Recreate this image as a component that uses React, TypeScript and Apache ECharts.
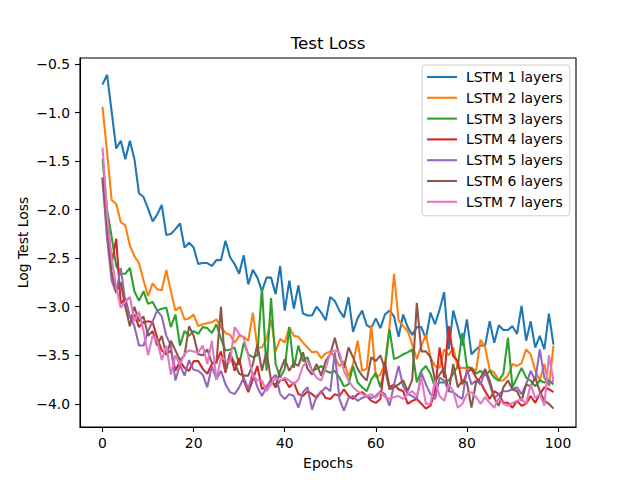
import React, { useEffect, useRef } from "react";
import * as echarts from "echarts";

const EPOCHS: number[] = Array.from({ length: 100 }, (_, i) => i);

const SERIES_NAMES = [
  "LSTM 1 layers",
  "LSTM 2 layers",
  "LSTM 3 layers",
  "LSTM 4 layers",
  "LSTM 5 layers",
  "LSTM 6 layers",
  "LSTM 7 layers",
];

const COLORS = ["#1f77b4", "#ff7f0e", "#2ca02c", "#d62728", "#9467bd", "#8c564b", "#e377c2"];

const X_TICKS = [0, 20, 40, 60, 80, 100];
const Y_TICKS = [-4.0, -3.5, -3.0, -2.5, -2.0, -1.5, -1.0, -0.5];

const LSTM1 = [
  -0.71, -0.61, -0.99, -1.37, -1.29, -1.48, -1.29, -1.48, -1.83, -1.87,
  -1.99, -2.12, -2.05, -1.95, -2.26, -2.25, -2.2, -2.14, -2.39, -2.34,
  -2.39, -2.56, -2.55, -2.55, -2.58, -2.52, -2.52, -2.32, -2.49, -2.56,
  -2.66, -2.47, -2.77, -2.62, -2.7, -2.84, -2.7, -2.7, -2.87, -2.58,
  -3.04, -2.73, -3.02, -2.78, -3.07, -3.09, -3.09, -3.0, -3.06, -3.14,
  -2.9, -2.94, -3.04, -3.11, -2.9, -3.26, -3.12, -3.04, -3.19, -3.22,
  -3.12, -3.22, -3.08, -3.04, -3.1, -3.31, -3.08, -3.21, -3.29, -3.21,
  -3.21, -3.33, -3.06, -3.18, -3.03, -2.85, -3.44, -3.04, -3.21, -3.4,
  -3.13, -3.49, -3.44, -3.4, -3.4, -3.15, -3.37, -3.19, -3.24, -3.24,
  -3.2, -3.28, -2.99, -3.35, -3.15, -3.42, -3.3, -3.44, -3.07, -3.39,
];

const LSTM2 = [
  -0.94, -1.41, -1.9, -1.94, -2.13, -2.16, -2.37, -2.48, -2.55, -2.73,
  -2.89, -2.76, -2.82, -2.83, -2.62, -2.84, -3.04, -3.0, -3.13, -3.12,
  -3.08, -3.2, -3.18, -3.17, -3.16, -3.13, -3.21, -3.27, -3.29, -3.37,
  -3.3, -3.31, -3.35, -3.06, -3.42, -3.42, -3.33, -3.13, -3.46, -3.33,
  -3.37, -3.21, -3.3, -3.31, -3.37, -3.42, -3.47, -3.46, -3.53, -3.48,
  -3.46, -3.52, -3.61, -3.56, -3.72, -3.59, -3.35, -3.66, -3.64, -3.19,
  -3.73, -3.7, -3.58, -3.21, -2.66, -3.14, -3.2, -3.25, -3.39, -3.54,
  -3.4, -3.29, -3.52, -3.61, -3.63, -3.44, -3.5, -3.42, -3.63, -3.63,
  -3.63, -3.63, -3.66, -3.34, -3.42, -3.65, -3.68, -3.76, -3.76, -3.71,
  -3.59, -3.61, -3.58, -3.44, -3.49, -3.66, -3.76, -3.59, -3.82, -3.4,
];

const LSTM3 = [
  -1.48, -2.0, -2.28, -2.58, -2.66, -2.66, -2.6, -2.84, -2.94, -2.84,
  -2.97, -2.95, -3.04, -3.02, -3.01, -3.21, -3.08, -3.4, -3.25, -3.3,
  -3.25, -3.28, -3.21, -3.22, -3.27, -3.18, -3.33, -3.45, -3.44, -3.42,
  -3.6, -3.37, -3.49, -3.52, -3.5, -2.8, -3.66, -2.91, -3.59, -3.73,
  -3.64, -3.21, -3.63, -3.4, -3.56, -3.52, -3.66, -3.64, -3.61, -3.66,
  -3.68, -3.66, -3.73, -3.82, -3.8, -3.61, -3.78, -3.83, -3.87, -3.75,
  -3.68, -3.83, -3.63, -3.23, -3.54, -3.52, -3.49, -3.47, -3.44, -3.78,
  -3.66, -3.61, -3.69, -3.83, -3.78, -3.78, -3.76, -3.69, -3.61, -3.27,
  -3.62, -3.63, -3.69, -3.66, -3.71, -3.66, -3.73, -3.76, -3.69, -3.32,
  -3.83, -3.73, -3.63, -3.73, -3.76, -3.82, -3.76, -3.78, -3.76, -3.8,
];

const LSTM4 = [
  -1.67, -2.1, -2.55, -2.3, -2.97, -2.91, -3.11, -3.08, -3.21, -3.16,
  -3.15, -3.16, -3.32, -3.45, -3.49, -3.45, -3.66, -3.56, -3.63, -3.66,
  -3.56, -3.56, -3.64, -3.69, -3.59, -3.57, -3.46, -3.68, -3.47, -3.66,
  -3.53, -3.76, -3.88, -3.75, -3.61, -3.85, -3.82, -3.76, -3.83, -3.76,
  -3.75, -3.83, -3.78, -3.9, -3.92, -3.87, -3.9, -3.94, -3.87, -3.94,
  -3.95, -3.9, -3.92, -3.85, -3.92, -3.95, -3.9, -3.88, -3.92, -3.97,
  -3.99, -3.95, -3.57, -3.83, -3.8, -3.85, -3.87, -4.0, -3.97, -3.95,
  -4.0, -4.05, -4.02, -3.87, -3.42, -3.73, -3.2, -3.51, -3.56, -3.8,
  -3.68, -3.64, -3.73, -3.78, -3.87, -3.95, -3.87, -3.9, -3.99, -3.99,
  -4.04, -3.97, -4.02, -4.0, -3.92, -3.99, -3.9, -3.83, -3.85, -3.88,
];

const LSTM5 = [
  -1.7, -2.3, -2.73, -2.86, -2.6, -2.95, -3.1, -3.2, -3.4, -3.4,
  -3.25, -3.15, -3.04, -3.1, -3.3, -3.4, -3.76, -3.6, -3.71, -3.55,
  -3.65, -3.66, -3.7, -3.83, -3.61, -3.75, -3.66, -3.8, -3.88, -3.9,
  -3.83, -3.73, -3.85, -3.68, -3.83, -3.92, -3.83, -3.75, -3.7, -3.9,
  -3.95, -3.9, -3.92, -4.04, -3.88, -3.83, -4.06, -3.92, -3.88, -3.83,
  -3.87, -3.47, -3.95, -4.07, -3.94, -3.92, -3.97, -3.94, -3.92, -3.94,
  -3.92, -3.87, -3.9, -4.02, -3.8, -3.61, -3.82, -3.9, -3.92, -3.95,
  -3.68, -3.8, -3.9, -3.95, -3.73, -3.76, -3.87, -3.88, -3.92, -3.95,
  -3.64, -3.8, -3.76, -3.8, -3.66, -3.8, -3.94, -3.9, -3.87, -3.87,
  -3.85, -3.83, -3.9, -3.8, -3.66, -3.76, -3.44, -3.73, -3.8, -3.76,
];

const LSTM6 = [
  -1.67, -2.15, -2.65, -2.85, -2.75, -3.0, -3.2, -3.0, -3.15, -3.1,
  -3.3, -3.25, -3.4, -3.3, -3.5, -3.35, -3.45, -3.55, -3.5, -3.2,
  -3.3, -3.49, -3.5, -3.44, -3.58, -3.58, -3.0, -3.66, -3.49, -3.58,
  -3.69, -3.71, -3.71, -3.59, -3.39, -3.66, -3.46, -3.76, -3.81, -3.66,
  -3.54, -3.66, -3.58, -3.61, -3.47, -3.64, -3.7, -3.59, -3.71, -3.56,
  -3.49, -3.32, -3.51, -3.63, -3.42, -3.52, -3.64, -3.71, -3.76, -3.52,
  -3.56, -3.5, -3.64, -3.85, -3.83, -3.8, -3.76, -3.87, -3.75, -2.96,
  -3.46, -3.46, -3.52, -3.76, -3.7, -3.63, -3.87, -3.59, -3.83, -3.76,
  -3.78, -4.04, -3.78, -3.73, -3.64, -3.76, -3.94, -4.02, -3.83, -3.76,
  -3.85, -3.87, -3.97, -3.8, -3.82, -3.73, -3.87, -3.97, -4.0, -4.05,
];

const LSTM7 = [
  -1.36, -2.05, -2.5, -2.8, -3.01, -2.95, -2.9, -3.15, -3.05, -3.25,
  -3.5, -3.3, -3.35, -3.55, -3.4, -3.7, -3.5, -3.6, -3.48, -3.45,
  -3.46, -3.47, -3.4, -3.59, -3.35, -3.75, -3.52, -3.55, -3.57, -3.21,
  -3.28, -3.32, -3.51, -3.71, -3.76, -3.76, -3.87, -3.8, -3.73, -3.76,
  -3.73, -3.76, -3.8, -3.75, -3.61, -3.56, -3.66, -3.73, -3.76, -3.63,
  -3.47, -3.45, -3.47, -3.66, -3.76, -3.83, -3.87, -3.9, -3.92, -3.9,
  -3.94, -3.88, -3.93, -3.95, -3.93, -3.92, -3.95, -3.9, -3.87, -3.92,
  -3.73, -4.0, -4.0, -3.76, -3.92, -3.97, -3.8, -3.87, -4.04, -4.0,
  -3.9, -3.88, -3.93, -4.0, -3.93, -3.99, -4.04, -3.94, -4.0, -4.02,
  -3.99, -3.97, -3.95, -4.0, -3.8, -3.94, -3.9, -4.02, -3.5, -3.76,
];

const ALL_SERIES = [LSTM1, LSTM2, LSTM3, LSTM4, LSTM5, LSTM6, LSTM7];

const FONT = "DejaVu Sans";

function fmt(v: number): string {
  const s = Math.abs(v).toFixed(1);
  return v < 0 ? "\u2212" + s : s;
}

export default function App() {
  const ref = useRef<HTMLDivElement>(null);

  useEffect(() => {
    if (!ref.current) return;
    const chart = echarts.init(ref.current, null, { renderer: "svg" });
    const option: any = {
      animation: false,
      backgroundColor: "#ffffff",
      textStyle: { fontFamily: FONT },
      grid: {
        left: 80,
        top: 58,
        width: 496,
        height: 369,
        show: true,
        borderColor: "#000",
        borderWidth: 1.1,
        backgroundColor: "transparent",
        containLabel: false,
        outerBoundsMode: "none",
      },
      graphic: [
        {
          type: "text",
          x: 328,
          y: 43,
          style: {
            text: "Test Loss",
            fill: "#000",
            font: `16.7px '${FONT}'`,
            textAlign: "center",
            textVerticalAlign: "middle",
          },
        },
      ],
      legend: {
        orient: "vertical",
        left: 422,
        top: 65,
        icon: "rect",
        itemWidth: 30,
        itemHeight: 2.1,
        itemGap: 4.8,
        padding: [4, 7, 6, 5],
        backgroundColor: "rgba(255,255,255,0.8)",
        borderColor: "#cccccc",
        borderWidth: 1,
        borderRadius: 3,
        textStyle: {
          fontFamily: FONT,
          fontSize: 13.9,
          lineHeight: 16,
          color: "#000",
          padding: [0, 0, 0, 4],
        },
        data: SERIES_NAMES,
      },
      xAxis: {
        type: "value",
        min: -4.95,
        max: 103.95,
        name: "Epochs",
        nameLocation: "middle",
        nameGap: 29,
        nameMoveOverlap: false,
        nameTextStyle: { fontFamily: FONT, fontSize: 13.9, color: "#000" },
        axisLine: { show: true, onZero: false, lineStyle: { color: "#000", width: 1.1 } },
        axisTick: {
          show: true,
          length: 5,
          customValues: X_TICKS,
          lineStyle: { color: "#000", width: 1.1 },
        },
        axisLabel: {
          customValues: X_TICKS,
          color: "#000",
          fontFamily: FONT,
          fontSize: 13.9,
          margin: 9,
          formatter: (v: number) => String(Math.round(v)),
        },
        splitLine: { show: false },
      },
      yAxis: {
        type: "value",
        min: -4.239,
        max: -0.437,
        name: "Log Test Loss",
        nameLocation: "middle",
        nameRotate: 90,
        nameGap: 50,
        nameMoveOverlap: false,
        nameTextStyle: { fontFamily: FONT, fontSize: 13.9, color: "#000" },
        axisLine: { show: true, onZero: false, lineStyle: { color: "#000", width: 1.1 } },
        axisTick: {
          show: true,
          length: 5,
          customValues: Y_TICKS,
          lineStyle: { color: "#000", width: 1.1 },
        },
        axisLabel: {
          customValues: Y_TICKS,
          color: "#000",
          fontFamily: FONT,
          fontSize: 13.9,
          margin: 10,
          formatter: (v: number) => fmt(v),
        },
        splitLine: { show: false },
      },
      series: ALL_SERIES.map((vals, k) => ({
        name: SERIES_NAMES[k],
        type: "line",
        showSymbol: false,
        symbol: "none",
        color: COLORS[k],
        lineStyle: { color: COLORS[k], width: 2.08 },
        itemStyle: { color: COLORS[k] },
        data: EPOCHS.map((e, i) => [e, vals[i]]),
      })),
    };
    chart.setOption(option);
    return () => {
      chart.dispose();
    };
  }, []);

  return (
    <div
      ref={ref}
      style={{ position: "absolute", left: 0, top: 0, width: 640, height: 480, background: "#fff" }}
    />
  );
}
